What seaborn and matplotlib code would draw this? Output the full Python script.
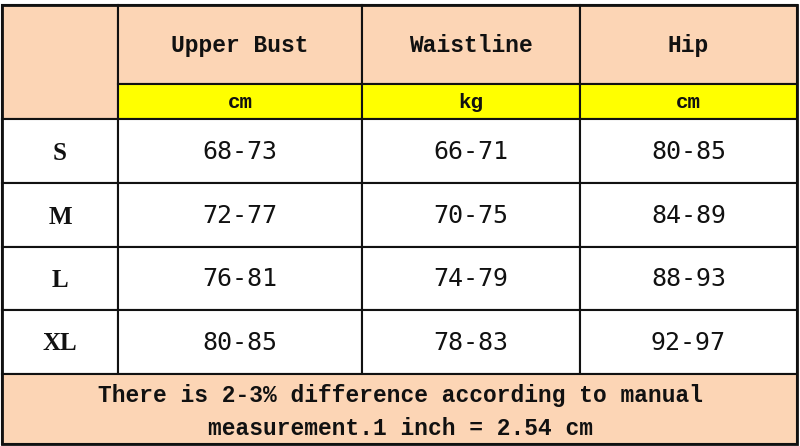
import numpy as np
import pandas as pd
import seaborn as sns
import matplotlib.pyplot as plt
from matplotlib.patches import Rectangle

sns.set_theme(style="white")
plt.rcParams['font.family'] = ['Liberation Mono', 'DejaVu Sans Mono']

# table content
measures = ['Upper Bust', 'Waistline', 'Hip']
units = ['cm', 'kg', 'cm']
sizes = ['S', 'M', 'L', 'XL']
upper_bust = ['68-73', '72-77', '76-81', '80-85']
waistline = ['66-71', '70-75', '74-79', '78-83']
hip = ['80-85', '84-89', '88-93', '92-97']
note = 'There is 2-3% difference according to manual\nmeasurement.1 inch = 2.54 cm'

size_df = pd.DataFrame({'Upper Bust': upper_bust, 'Waistline': waistline, 'Hip': hip}, index=sizes)

# layout in pixel units
col_edges = [2, 118, 362, 580, 797]
row_edges = [5, 84, 119, 183, 247, 310, 374, 444]
peach = '#FCD5B5'
yellow = '#FFFF00'

fig, ax = plt.subplots(figsize=(8, 4.46), dpi=100)
fig.subplots_adjust(0, 0, 1, 1)
ax.set_xlim(0, 800)
ax.set_ylim(446, 0)
ax.axis('off')

def cell(x0, x1, y0, y1, color, lw=1.5):
    ax.add_patch(Rectangle((x0, y0), x1 - x0, y1 - y0, facecolor=color,
                           edgecolor='#111111', linewidth=lw))

def mid(a, b):
    return (a + b) / 2

# corner cell spans header + unit rows
cell(col_edges[0], col_edges[1], row_edges[0], row_edges[2], peach)
for j, m in enumerate(measures):
    x0, x1 = col_edges[j + 1], col_edges[j + 2]
    cell(x0, x1, row_edges[0], row_edges[1], peach)
    cell(x0, x1, row_edges[1], row_edges[2], yellow)
    ax.text(mid(x0, x1), mid(row_edges[0], row_edges[1]) + 1, m, ha='center', va='center',
            fontsize=16.5, fontweight='bold', color='#111111')
    ax.text(mid(x0, x1), mid(row_edges[1], row_edges[2]) + 1, units[j], ha='center', va='center',
            fontsize=15, fontweight='bold', color='#111111')

for i, s in enumerate(size_df.index):
    y0, y1 = row_edges[i + 2], row_edges[i + 3]
    cell(col_edges[0], col_edges[1], y0, y1, 'white')
    ax.text(mid(col_edges[0], col_edges[1]), mid(y0, y1) + 2, s, ha='center', va='center',
            fontsize=18, fontweight='bold', color='#111111', family='Liberation Serif')
    for j, m in enumerate(measures):
        x0, x1 = col_edges[j + 1], col_edges[j + 2]
        cell(x0, x1, y0, y1, 'white')
        ax.text(mid(x0, x1), mid(y0, y1) + 1, size_df.loc[s, m], ha='center', va='center',
                fontsize=18, color='#111111', family='DejaVu Sans Mono')

# footer note
cell(col_edges[0], col_edges[-1], row_edges[-2], row_edges[-1], peach)
ax.text(400, mid(row_edges[-2], row_edges[-1]) + 3, note, ha='center', va='center',
        fontsize=16.5, fontweight='bold', color='#111111', linespacing=1.6)

# outer frame
ax.add_patch(Rectangle((col_edges[0], row_edges[0]), col_edges[-1] - col_edges[0],
                       row_edges[-1] - row_edges[0], fill=False, edgecolor='#111111', linewidth=2))

fig.savefig('out.png', dpi=100)
